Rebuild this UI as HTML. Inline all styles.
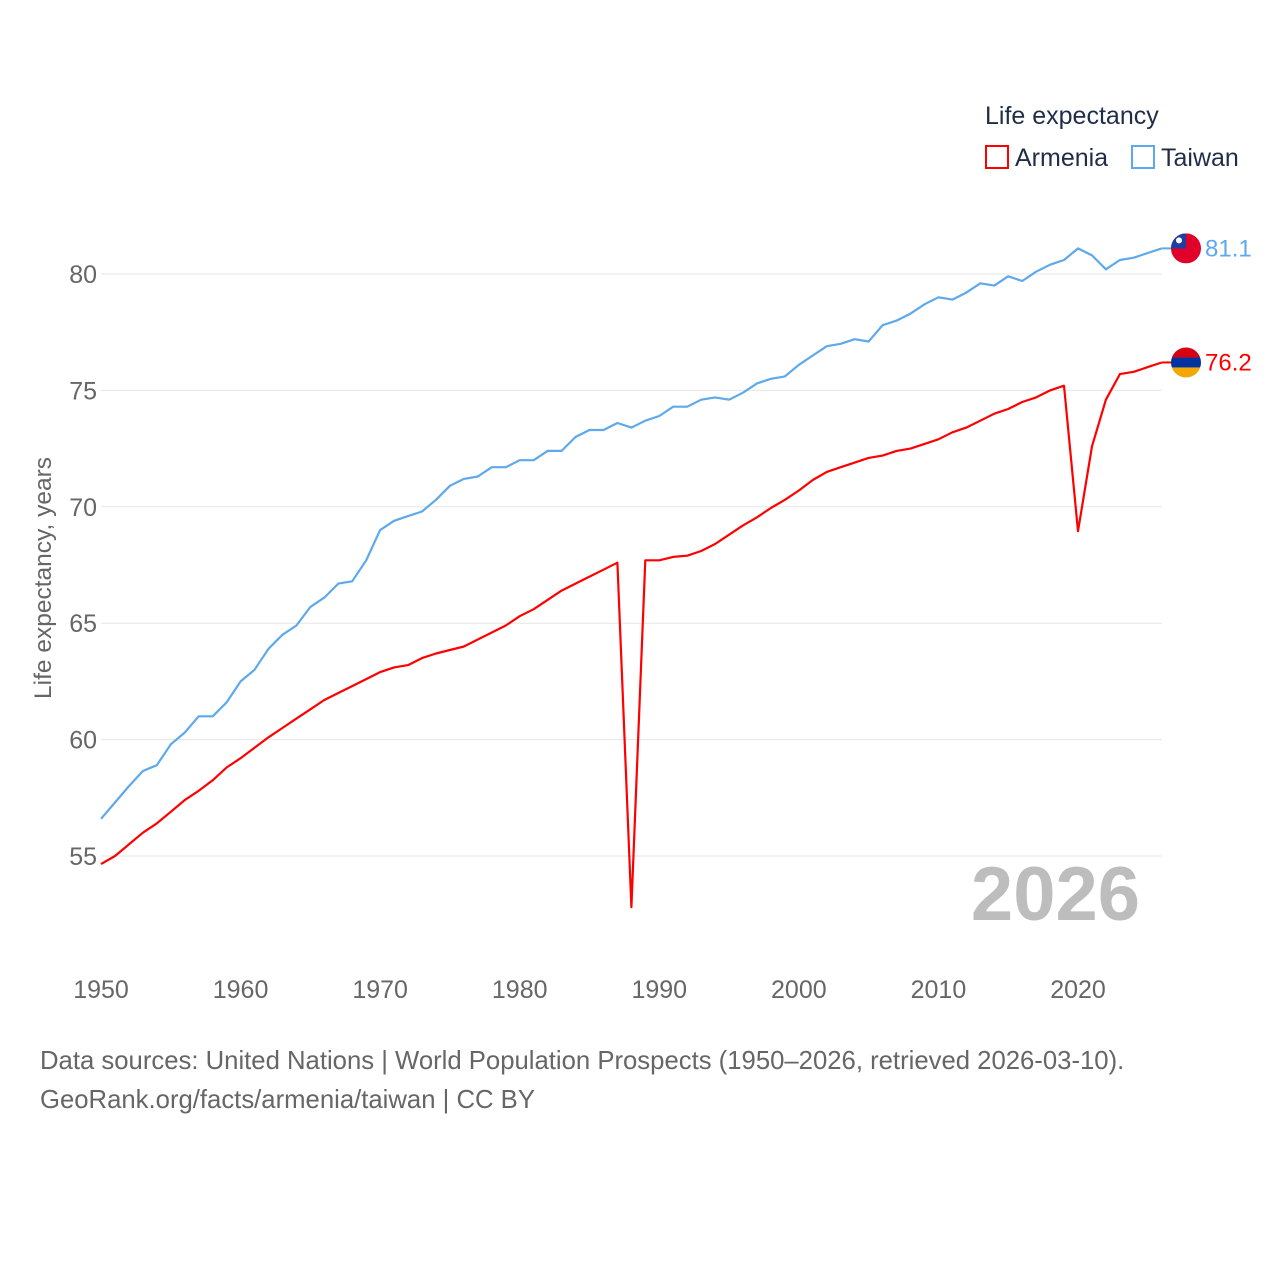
<!DOCTYPE html>
<html><head><meta charset="utf-8"><style>
html,body{margin:0;padding:0;background:#fff;}
svg{display:block;font-family:"Liberation Sans",sans-serif;}
</style></head><body>
<svg id="chart" width="1280" height="1280" viewBox="0 0 1280 1280">
  <g id="grid"></g>
  <g id="yticks"></g>
  <g id="xticks"></g>
  <text x="1140" y="920" text-anchor="end" font-size="76" font-weight="bold" fill="#bdbdbd">2026</text>
  <text transform="translate(51,578) rotate(-90)" text-anchor="middle" font-size="24.5" fill="#666">Life expectancy, years</text>
  <g id="series"></g>
  <g id="ends"></g>
  <g>
    <text x="985" y="124" font-size="25" fill="#1f2d47">Life expectancy</text>
    <g>
      <rect x="986" y="146" width="22" height="22" fill="none" stroke="#ff0000" stroke-width="2"/>
      <text x="1015" y="166" font-size="25" fill="#1f2d47">Armenia</text>
    </g>
    <g>
      <rect x="1132" y="146" width="22" height="22" fill="none" stroke="#5ea8ec" stroke-width="2"/>
      <text x="1161" y="166" font-size="25" fill="#1f2d47">Taiwan</text>
    </g>
  </g>
  <text x="40" y="1069" font-size="25.7" fill="#666">Data sources: United Nations | World Population Prospects (1950–2026, retrieved 2026-03-10).</text>
  <text x="40" y="1108" font-size="25.7" fill="#666">GeoRank.org/facts/armenia/taiwan | CC BY</text>
</svg>
<script>
const startYear = 1950;
const xTicks = [1950,1960,1970,1980,1990,2000,2010,2020];
const yTicks = [55,60,65,70,75,80];
const taiwan = [56.6,57.3,58.0,58.65,58.9,59.8,60.3,61.0,61.0,61.6,62.5,63.0,63.9,64.5,64.9,65.7,66.1,66.7,66.8,67.7,69.0,69.4,69.6,69.8,70.3,70.9,71.2,71.3,71.7,71.7,72.0,72.0,72.4,72.4,73.0,73.3,73.3,73.6,73.4,73.7,73.9,74.3,74.3,74.6,74.7,74.6,74.9,75.3,75.5,75.6,76.1,76.5,76.9,77.0,77.2,77.1,77.8,78.0,78.3,78.7,79.0,78.9,79.2,79.6,79.5,79.9,79.7,80.1,80.4,80.6,81.1,80.8,80.2,80.6,80.7,80.9,81.1];
const armenia = [54.65,55.0,55.5,56.0,56.4,56.9,57.4,57.8,58.25,58.8,59.2,59.65,60.1,60.5,60.9,61.3,61.7,62.0,62.3,62.6,62.9,63.1,63.2,63.5,63.7,63.85,64.0,64.3,64.6,64.9,65.3,65.6,66.0,66.4,66.7,67.0,67.3,67.6,52.8,67.7,67.7,67.85,67.9,68.1,68.4,68.8,69.2,69.55,69.95,70.3,70.7,71.15,71.5,71.7,71.9,72.1,72.2,72.4,72.5,72.7,72.9,73.2,73.4,73.7,74.0,74.2,74.5,74.7,75.0,75.2,68.95,72.6,74.6,75.7,75.8,76.0,76.2];

const NS = "http://www.w3.org/2000/svg";
const X = yr => 101 + (yr - 1950) * (1078 - 101) / 70;
const Y = v => 274 + (80 - v) * (856 - 274) / 25;
function mk(tag, attrs, parent){ const e=document.createElementNS(NS,tag); for(const k in attrs) e.setAttribute(k,attrs[k]); parent.appendChild(e); return e; }

const grid=document.getElementById('grid'), yt=document.getElementById('yticks'), xt=document.getElementById('xticks');
yTicks.forEach(v=>{
  const l=mk('line',{x1:101,x2:1162,y1:Y(v),y2:Y(v),stroke:'#e6e6e6','stroke-width':1},grid);
  
  
  const t=mk('text',{x:97,y:Y(v)+9,'text-anchor':'end','font-size':25,fill:'#666'},yt);
  t.textContent=v;
  
  
});
xTicks.forEach(yr=>{
  const t=mk('text',{x:X(yr),y:998,'text-anchor':'middle','font-size':25,fill:'#666'},xt);
  t.textContent=yr;
  
  
});
const ser=document.getElementById('series');
function line(data,color,name){
  const d=data.map((v,i)=>(i?'L':'M')+X(startYear+i).toFixed(1)+','+Y(v).toFixed(1)).join(' ');
  const p=mk('path',{d:d,fill:'none',stroke:color,'stroke-width':2.2,'stroke-linejoin':'round'},ser);
  
  
}
line(taiwan,'#5ea8ec','line-taiwan');
line(armenia,'#ff0000','line-armenia');

const ends=document.getElementById('ends');
function endMark(data,color,name,flag){
  const v=data[data.length-1], lx=X(startYear+data.length-1), y=Y(v);
  const ln=mk('line',{x1:lx,x2:1175,y1:y,y2:y,stroke:color,'stroke-width':2},ends);
  
  
  const g=mk('g',{},ends);
  
  
  const cid='clip-'+name;
  const cp=mk('clipPath',{id:cid},g); mk('circle',{cx:1186,cy:y,r:15},cp);
  const gg=mk('g',{'clip-path':'url(#'+cid+')'},g);
  if(flag==='am'){
    mk('rect',{x:1171,y:y-15,width:30,height:10,fill:'#d90012'},gg);
    mk('rect',{x:1171,y:y-5,width:30,height:10,fill:'#0033a0'},gg);
    mk('rect',{x:1171,y:y+5,width:30,height:10,fill:'#f2a800'},gg);
  } else {
    mk('rect',{x:1171,y:y-15,width:30,height:30,fill:'#e0002a'},gg);
    mk('rect',{x:1171,y:y-15,width:15,height:15,fill:'#1d3fa3'},gg);
    mk('circle',{cx:1179,cy:y-8,r:3,fill:'#fff'},gg);
  }
  const t=mk('text',{x:1205,y:y+8,'font-size':24,fill:color},ends);
  t.textContent=v.toFixed(1);
  
  
}
endMark(taiwan,'#5ea8ec','taiwan','tw');
endMark(armenia,'#ff0000','armenia','am');
</script>
</body></html>
